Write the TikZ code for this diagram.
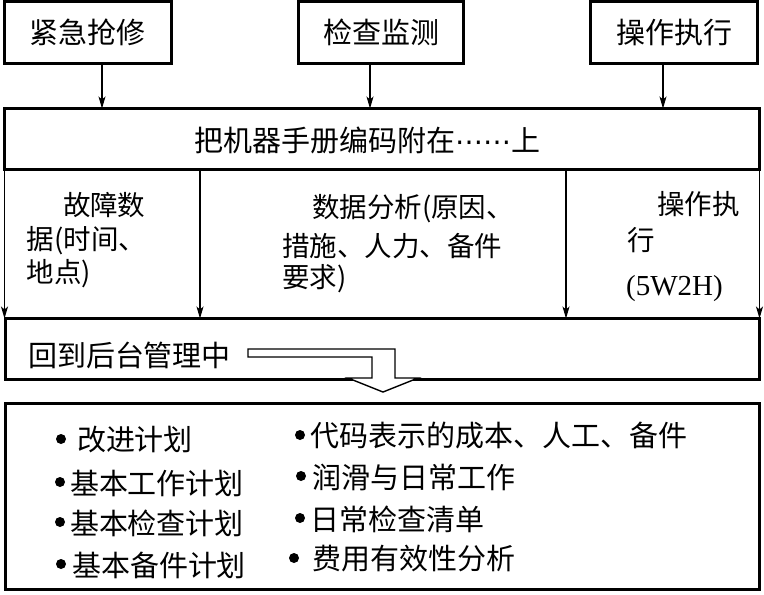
\documentclass[tikz,border=0pt]{standalone}
\usepackage{fontspec}
\setmainfont{Liberation Serif}
\newfontfamily\cjk{Noto Sans CJK SC}
\newfontfamily\dejavu{DejaVu Sans}
\usetikzlibrary{arrows.meta}
\begin{document}
\begin{tikzpicture}[x=1pt,y=-1pt,
  thickbox/.style={draw, line width=3pt, inner sep=0pt, outer sep=0pt},
  arr/.style={-{Stealth[length=12pt,width=7pt,inset=3pt]}, line width=1.1pt},
  txt/.style={inner sep=0pt, outer sep=0pt, font=\cjk\fontsize{29}{35}\selectfont},
  mtxt/.style={inner sep=0pt, outer sep=0pt, anchor=west, font=\cjk\fontsize{27.5}{33}\selectfont},
  btxt/.style={inner sep=0pt, outer sep=0pt, anchor=west, font=\cjk\fontsize{29}{35}\selectfont},
  dot/.style={circle, fill, draw=none, inner sep=0pt, minimum size=10pt},
  hollow/.style={draw, line width=1.4pt, fill=white, line join=miter}]
\useasboundingbox (0,0) rectangle (764,595);
% top boxes
\node[thickbox, txt, minimum width=167pt, minimum height=62pt] (b1) at (88,32.5) {紧急抢修};
\node[thickbox, txt, minimum width=165pt, minimum height=62pt] (b2) at (381,32.5) {检查监测};
\node[thickbox, txt, minimum width=167pt, minimum height=62pt] (b3) at (674,32.5) {操作执行};
% big box
\node[thickbox, minimum width=755pt, minimum height=61pt] (big) at (382,139) {};
\node[txt] (bigt) at (367,140) {把机器手册编码附在{\dejavu\fontsize{28}{30}\selectfont ⋯⋯}上};
% arrows from top boxes
\draw[arr] (b1.south -| 102,0) -- (big.north -| 102,0);
\draw[arr] (b2.south -| 370,0) -- (big.north -| 370,0);
\draw[arr] (b3.south -| 663,0) -- (big.north -| 663,0);
% back-office box
\node[thickbox, minimum width=754pt, minimum height=61pt] (back) at (382.5,349) {};
\node[btxt] (backt) at (28,355) {回到后台管理中};
% vertical arrows
\foreach \x in {4.5,200,566,759.5}
  \draw[arr] (big.south -| \x,0) -- (back.north -| \x,0);
% middle texts
\node[mtxt] (c1a) at (63,205) {故障数};
\node[mtxt] (c1b) at (27,241) {据(时间、};
\node[mtxt] (c1c) at (27,274) {地点)};
\node[mtxt] (c2a) at (312,209) {数据分析(原因、};
\node[mtxt] (c2b) at (282,246) {措施、人力、备件};
\node[mtxt] (c2c) at (282,279) {要求)};
\node[mtxt] (c3a) at (657,204) {操作执};
\node[mtxt] (c3b) at (627,240) {行};
\node[inner sep=0pt, anchor=west, font=\fontsize{29}{35}\selectfont] (c3c) at (626,289) {(5W2H)};
% bottom box
\node[thickbox, minimum width=754pt, minimum height=186pt] (plan) at (382.5,496.5) {};
% hollow arrow
\draw[hollow] (backt.east -| 248,0) ++(0,-6) -- (395,349) -- (395,378) -- (418,378) -- (383,392)
  -- (348,378) -- (372,378) -- (372,357) -- (248,357) -- cycle;
% bullets left
\node[dot] (d1) at (61,439) {};
\node[btxt] (l1) at (77,440) {改进计划};
\node[dot] (d2) at (60,482) {};
\node[btxt] (l2) at (70,483) {基本工作计划};
\node[dot] (d3) at (60,522) {};
\node[btxt] (l3) at (70,523) {基本检查计划};
\node[dot] (d4) at (61,564) {};
\node[btxt] (l4) at (72,565) {基本备件计划};
% bullets right
\node[dot] (e1) at (300,435) {};
\node[btxt] (r1) at (310,436) {代码表示的成本、人工、备件};
\node[dot] (e2) at (301,476) {};
\node[btxt] (r2) at (312,477) {润滑与日常工作};
\node[dot] (e3) at (300,518) {};
\node[btxt] (r3) at (310,519) {日常检查清单};
\node[dot] (e4) at (294,558) {};
\node[btxt] (r4) at (312,559) {费用有效性分析};
\end{tikzpicture}
\end{document}
